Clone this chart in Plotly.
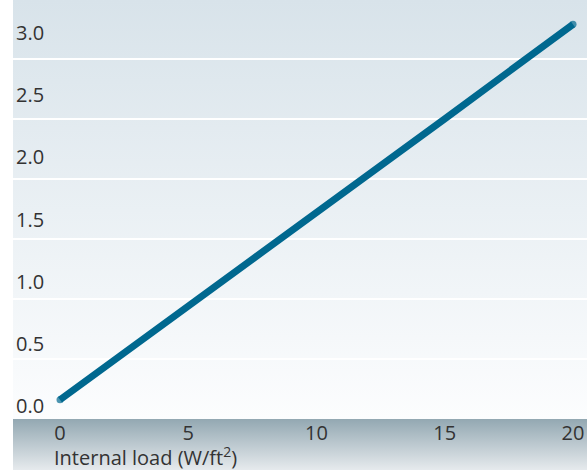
import base64
import plotly.graph_objects as go

# Data
x_load = [0, 5, 10, 15, 20]
y_value = [0.05, 0.80, 1.56, 2.31, 3.07]
y_ticks = [0.0, 0.5, 1.0, 1.5, 2.0, 2.5, 3.0]
y_ticktext = ["0.0", "0.5", "1.0", "1.5", "2.0", "2.5", "3.0"]
x_ticks = [0, 5, 10, 15, 20]
x_title = "Internal load (W/ft<sup>2</sup>)"

LINE_COLOR = "#00688f"
FONT = "Open Sans"
FS = 20


def grad_svg(top, bottom):
    svg = (
        "<svg xmlns='http://www.w3.org/2000/svg' width='100' height='100' preserveAspectRatio='none'>"
        "<defs><linearGradient id='g' x1='0' y1='0' x2='0' y2='1'>"
        f"<stop offset='0' stop-color='{top}'/><stop offset='1' stop-color='{bottom}'/>"
        "</linearGradient></defs><rect width='100' height='100' fill='url(#g)'/></svg>"
    )
    return "data:image/svg+xml;base64," + base64.b64encode(svg.encode()).decode()


W, H = 587, 472
ML, MR, MT, MB = 13, 0, 0, 53
plot_h = H - MT - MB
plot_w = W - ML - MR

# round caps only at the two ends of the line
cap_sizes = [7] + [0] * (len(x_load) - 2) + [7]

fig = go.Figure()
fig.add_trace(go.Scatter(
    x=x_load, y=y_value, mode="lines+markers",
    line=dict(color=LINE_COLOR, width=7),
    marker=dict(color=LINE_COLOR, size=cap_sizes, line=dict(width=0)),
    hoverinfo="skip", showlegend=False,
))

band = 51 / plot_h
fig.update_layout(
    width=W, height=H,
    margin=dict(l=ML, r=MR, t=MT, b=MB, pad=0),
    paper_bgcolor="white",
    plot_bgcolor="rgba(0,0,0,0)",
    font=dict(family=FONT, size=FS, color="#333333"),
    images=[
        dict(source=grad_svg("#d8e3ea", "#fcfdfe"), xref="paper", yref="paper",
             x=0, y=1, sizex=1, sizey=1, xanchor="left", yanchor="top",
             sizing="stretch", layer="below"),
        dict(source=grad_svg("#93a8b2", "#e6eaed"), xref="paper", yref="paper",
             x=0, y=0, sizex=1, sizey=band, xanchor="left", yanchor="top",
             sizing="stretch", layer="below"),
    ],
    xaxis=dict(
        range=[-1.832, 20.545], tickvals=x_ticks, showgrid=False, zeroline=False,
        showline=False, ticks="", ticklabelstandoff=0,
        tickfont=dict(family=FONT, size=FS, color="#333333"), fixedrange=True,
    ),
    yaxis=dict(
        range=[-0.1046, 3.2655], tickvals=y_ticks, ticktext=y_ticktext,
        ticklabelposition="inside", showgrid=False, zeroline=False, showline=False,
        ticks="", tickfont=dict(family=FONT, size=FS, color="#333333"),
        minor=dict(showgrid=True, gridcolor="white", gridwidth=2,
                   tick0=0.378, dtick=0.4826, ticks=""),
        fixedrange=True,
    ),
    annotations=[dict(
        text=x_title, xref="paper", yref="paper", x=(55 - 13 - 3) / plot_w, y=-38 / plot_h,
        xanchor="left", yanchor="middle", showarrow=False,
        font=dict(family=FONT, size=FS, color="#333333"),
    )],
)

fig.write_html(
    "out.html",
    config={"displayModeBar": False},
    post_script="document.body.style.margin='0';document.body.style.overflow='hidden';",
)
